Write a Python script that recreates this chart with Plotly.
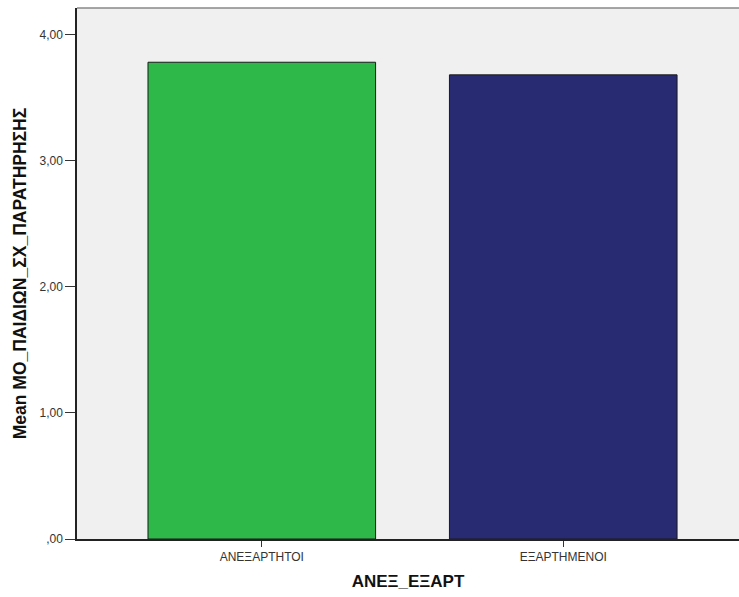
import plotly.graph_objects as go

categories = ["ΑΝΕΞΑΡΤΗΤΟΙ", "ΕΞΑΡΤΗΜΕΝΟΙ"]
means = [3.78, 3.68]
bar_colors = ["#2EB84A", "#282A72"]
y_tick_vals = [0, 1, 2, 3, 4]
y_tick_text = [",00", "1,00", "2,00", "3,00", "4,00"]

fig = go.Figure(go.Bar(
    x=[0, 1], y=means, width=0.755,
    marker=dict(color=bar_colors, line=dict(color="#1a1a1a", width=1)),
))

fig.update_layout(
    width=739, height=597,
    margin=dict(l=77, r=0, t=8, b=58),
    plot_bgcolor="#F0F0F0", paper_bgcolor="white",
    font=dict(family="Liberation Sans, Arial, sans-serif", color="#222"),
    showlegend=False,
    xaxis=dict(
        range=[-0.613, 1.583], tickvals=[0, 1], ticktext=categories,
        ticks="outside", ticklen=6, tickcolor="#333", tickwidth=1,
        showgrid=False, zeroline=False,
        showline=True, linecolor="#222", linewidth=1.5,
        tickfont=dict(size=12, color="#333"),
        title=dict(text="<b>ΑΝΕΞ_ΕΞΑΡΤ</b>", font=dict(size=17, color="#111"), standoff=12),
    ),
    yaxis=dict(
        range=[0, 4.21], tickvals=y_tick_vals, ticktext=y_tick_text,
        ticks="outside", ticklen=10, tickcolor="#333", tickwidth=1,
        showgrid=False, zeroline=False,
        showline=True, linecolor="#222", linewidth=1.5,
        tickfont=dict(size=12, color="#333"),
        title=dict(text="<b>Mean ΜΟ_ΠΑΙΔΙΩΝ_ΣΧ_ΠΑΡΑΤΗΡΗΣΗΣ</b>", font=dict(size=17.5, color="#111"), standoff=8),
    ),
    shapes=[dict(type="line", xref="paper", yref="paper", x0=0, x1=1, y0=1, y1=1,
                 line=dict(color="#888", width=1.5))],
)

fig.write_html("out.html", config={"displayModeBar": False},
               post_script="document.body.style.margin='0';document.body.style.overflow='hidden';")
